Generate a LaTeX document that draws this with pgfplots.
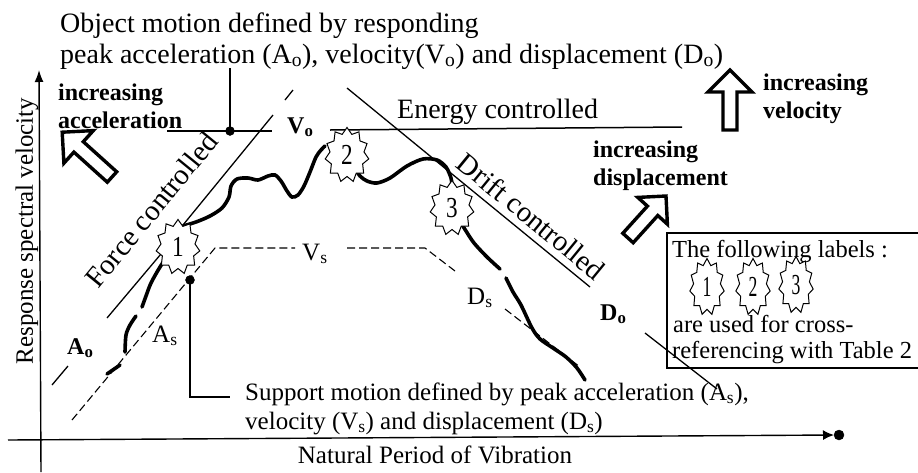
\documentclass[border=0pt]{standalone}
\usepackage{pgfplots}
\pgfplotsset{compat=1.18}
\usepackage{fontspec}
\setmainfont{Liberation Serif}
\usetikzlibrary{arrows.meta,shapes.geometric}
\newcommand\fTop{\fontsize{28}{32}\selectfont}
\newcommand\fMid{\fontsize{25}{29}\selectfont}
\newcommand\fRot{\fontsize{29}{33}\selectfont}
\newcommand\fBold{\fontsize{24}{28}\selectfont\bfseries}
\newcommand\fBox{\fontsize{24.5}{28}\selectfont}
\newcommand\fStar{\fontsize{29}{30}\selectfont}
\tikzset{lbl/.style={star, star points=11, star point ratio=1.28, draw, line width=1pt, fill=white, minimum size=55pt, inner sep=0pt, xscale=0.8, font=\fStar}}
\begin{document}
\begin{tikzpicture}
\begin{axis}[scale only axis, width=918pt, height=472pt,
  xmin=0, xmax=918, ymin=0, ymax=472, y dir=reverse,
  hide axis, clip=false]
% axes
\addplot[black, line width=1.4pt, -{Latex[length=12pt,width=9pt]}] coordinates {(41,472) (39,70)};
\addplot[black, line width=1.4pt, -{Latex[length=11pt,width=10pt]}] coordinates {(8,440) (834,435)};
\addplot[black, only marks, mark=*, mark size=5pt, mark options={fill=black}] coordinates {(839,435)};
\node[rotate=90, font=\fMid, inner sep=0] at (axis cs:27,231) {Response spectral velocity};
\node[anchor=base, font=\fMid, inner sep=0] at (axis cs:435,463) {Natural Period of Vibration};
% top annotation
\node[anchor=base west, font=\fTop, inner sep=0] at (axis cs:60,32) {Object motion defined by responding};
\node[anchor=base west, font=\fTop, inner sep=0] at (axis cs:60,63) {peak acceleration (A\textsubscript{o}), velocity(V\textsubscript{o}) and displacement (D\textsubscript{o})};
\addplot[black, line width=1.2pt] coordinates {(230,68) (230,131)};
\addplot[black, line width=1.4pt] coordinates {(167,131) (272,131)};
\addplot[black, only marks, mark=*, mark size=4.5pt, mark options={fill=black}] coordinates {(230,131)};
% force controlled line
\addplot[black, line width=1.3pt] coordinates {(52,385) (68,366)};
\addplot[black, line width=1.3pt] coordinates {(107,318) (166,248)};
\addplot[black, line width=1.3pt] coordinates {(183,225) (273,115)};
\addplot[black, line width=1.3pt] coordinates {(285,100) (293,90)};
\node[rotate=50.7, anchor=base, font=\fRot, inner sep=0] at (axis cs:159,216) {Force controlled};
% energy controlled
\addplot[black, line width=1.5pt] coordinates {(330,130) (682,127)};
\node[anchor=base west, font=\fTop, inner sep=0] at (axis cs:397,118) {Energy controlled};
% drift controlled
\addplot[black, line width=1.3pt] coordinates {(347,88) (590,287)};
\addplot[black, line width=1.3pt] coordinates {(645,333) (717,389)};
\node[rotate=-39.3, anchor=base, font=\fRot, inner sep=0] at (axis cs:525,224) {Drift controlled};
% labels
\node[anchor=base west, font=\fBold, inner sep=0] at (axis cs:287,133) {V\textsubscript{o}};
\node[anchor=base west, font=\fBold, inner sep=0] at (axis cs:67,354) {A\textsubscript{o}};
\node[anchor=base west, font=\fBold, inner sep=0] at (axis cs:600,320) {D\textsubscript{o}};
\node[anchor=base west, font=\fMid, inner sep=0] at (axis cs:152,342) {A\textsubscript{s}};
\node[anchor=base west, font=\fMid, inner sep=0] at (axis cs:302,260) {V\textsubscript{s}};
\node[anchor=base west, font=\fMid, inner sep=0] at (axis cs:467,304) {D\textsubscript{s}};
% support spectrum (dashed)
\addplot[black, line width=1.1pt, dash pattern=on 8pt off 4pt] coordinates {(72,420) (215,248) (295,248)};
\addplot[black, line width=1.1pt, dash pattern=on 8pt off 4pt] coordinates {(347,248) (425,248) (455,271)};
\addplot[black, line width=1.1pt, dash pattern=on 8pt off 4pt] coordinates {(505,309) (580,367)};
\addplot[black, only marks, mark=*, mark size=4.5pt, mark options={fill=black}] coordinates {(190,280)};
\addplot[black, line width=1.2pt] coordinates {(190,280) (190,397) (230,397)};
\node[anchor=base west, font=\fMid, inner sep=0] at (axis cs:245,400) {Support motion defined by peak acceleration (A\textsubscript{s}),};
\node[anchor=base west, font=\fMid, inner sep=0] at (axis cs:245,429) {velocity (V\textsubscript{s}) and displacement (D\textsubscript{s})};
% response curve (thick)
\addplot[black, line width=3.6pt, smooth, line cap=round] coordinates {(183,226) (196,222) (210,216) (222,208) (229,197) (231,186) (237,179) (248,178) (258,180) (268,176) (275,175) (281,181) (287,191) (292,197) (298,195) (304,186) (310,172) (316,157) (321,150) (325,146)};
\addplot[black, line width=3.6pt, smooth, line cap=round] coordinates {(354,167) (360,176) (367,181) (377,183) (390,178) (407,166) (423,159) (437,160) (446,167) (451,178) (452,187)};
\addplot[black, line width=3.6pt, smooth, line cap=round] coordinates {(461,223) (466,231) (474,243) (487,257) (500,269)};
\addplot[black, line width=3.6pt, smooth, line cap=round] coordinates {(506,278) (513,292) (521,305) (532,328) (540,339) (553,348) (566,357) (577,368) (585,380)};
\addplot[black, line width=3.6pt, smooth, line cap=round] coordinates {(169,254) (160,267) (151,283) (146,296) (142,307)};
\addplot[black, line width=3.6pt, smooth, line cap=round] coordinates {(136,316) (130,325) (126,335) (125,352)};
\addplot[black, line width=3.6pt, line cap=round] coordinates {(120,365) (107,374)};
% stars
\node[lbl] at (axis cs:178,247) {1};
\node[lbl] at (axis cs:347,155) {2};
\node[lbl] at (axis cs:452,208) {3};
% hollow arrows
\addplot[black, line width=3.4pt, line join=miter, fill=white] coordinates {(730,130) (723,130) (723,92) (708,92) (730,70) (752,92) (737,92) (737,130) (730,130)};
\addplot[black, line width=3.4pt, line join=miter, fill=white] coordinates {(112,177) (107.3,182.2) (73.9,152.1) (63.9,163.2) (62.2,132.2) (93.3,130.6) (83.3,141.7) (116.7,171.8) (112,177)};
\addplot[black, line width=3.4pt, line join=miter, fill=white] coordinates {(628,238) (622.8,233.3) (647.4,206.1) (637.8,197.4) (666,196) (667.4,224.2) (657.8,215.5) (633.2,242.7) (628,238)};
\node[anchor=base west, font=\fBold, inner sep=0] at (axis cs:58,100) {increasing};
\node[anchor=base west, font=\fBold, inner sep=0] at (axis cs:58,128) {acceleration};
\node[anchor=base west, font=\fBold, inner sep=0] at (axis cs:763,90) {increasing};
\node[anchor=base west, font=\fBold, inner sep=0] at (axis cs:763,118) {velocity};
\node[anchor=base west, font=\fBold, inner sep=0] at (axis cs:593,157) {increasing};
\node[anchor=base west, font=\fBold, inner sep=0] at (axis cs:593,185) {displacement};
% legend box
\addplot[black, line width=1.2pt] coordinates {(918,233) (667,233) (667,368) (918,368)};
\node[anchor=base west, font=\fBox, inner sep=0] at (axis cs:672,257) {The following labels :};
\node[lbl, minimum size=57pt, xscale=0.76] at (axis cs:707,287) {1};
\node[lbl, minimum size=57pt, xscale=0.76] at (axis cs:753,287) {2};
\node[lbl, minimum size=57pt, xscale=0.76] at (axis cs:796,285) {3};
\node[anchor=base west, font=\fBox, inner sep=0] at (axis cs:673,332) {are used for cross-};
\node[anchor=base west, font=\fBox, inner sep=0] at (axis cs:672,358) {referencing with Table 2};
\end{axis}
\pgfresetboundingbox
\path[use as bounding box] (0,0) rectangle (918pt,472pt);
\end{tikzpicture}
\end{document}
